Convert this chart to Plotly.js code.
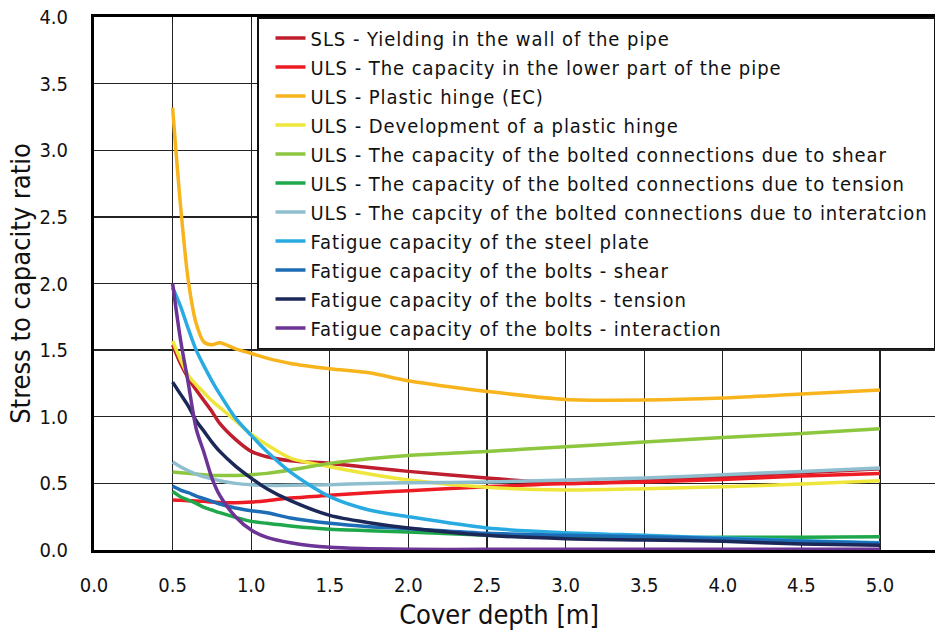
<!DOCTYPE html>
<html>
<head>
<meta charset="utf-8">
<script src="https://cdn.plot.ly/plotly-3.0.1.min.js"></script>
<style>
html,body{margin:0;padding:0;background:#fff;}
#chart{width:936px;height:631px;}
text.legendtext{letter-spacing:0.95px;}
</style>
</head>
<body>
<div id="chart"></div>
<script>
// Cover depth [m]
const coverDepth = [0.5,0.55,0.6,0.65,0.7,0.75,0.8,0.9,1.0,1.1,1.25,1.5,1.75,2.0,2.5,3.0,3.5,4.0,4.5,5.0];

const slsYielding      = [1.54,1.40,1.29,1.20,1.12,1.04,0.95,0.83,0.74,0.70,0.67,0.65,0.62,0.59,0.54,0.50,0.52,0.55,0.58,0.61];
const ulsLowerPart     = [0.375,0.373,0.37,0.368,0.365,0.36,0.357,0.355,0.36,0.37,0.39,0.41,0.43,0.445,0.475,0.50,0.51,0.53,0.555,0.575];
const ulsPlasticEC     = [3.32,2.59,2.02,1.70,1.56,1.54,1.555,1.51,1.475,1.44,1.40,1.36,1.33,1.27,1.19,1.13,1.125,1.14,1.17,1.20];
const ulsDevPlastic    = [1.57,1.43,1.31,1.24,1.18,1.12,1.07,0.97,0.87,0.79,0.69,0.625,0.57,0.525,0.47,0.45,0.46,0.475,0.495,0.52];
const ulsBoltShear     = [0.585,0.58,0.575,0.57,0.565,0.56,0.56,0.56,0.565,0.575,0.60,0.65,0.685,0.71,0.74,0.775,0.81,0.845,0.875,0.91];
const ulsBoltTension   = [0.44,0.40,0.375,0.35,0.32,0.30,0.28,0.245,0.215,0.20,0.18,0.155,0.145,0.135,0.11,0.095,0.09,0.095,0.095,0.10];
const ulsBoltInteract  = [0.66,0.625,0.595,0.57,0.55,0.535,0.52,0.50,0.49,0.485,0.485,0.49,0.50,0.505,0.51,0.525,0.54,0.565,0.59,0.615];
const fatSteelPlate    = [1.97,1.83,1.66,1.50,1.38,1.27,1.17,0.99,0.86,0.74,0.585,0.40,0.30,0.25,0.165,0.13,0.11,0.09,0.07,0.055];
const fatBoltShear     = [0.48,0.45,0.43,0.405,0.385,0.365,0.345,0.315,0.295,0.28,0.24,0.20,0.175,0.16,0.125,0.11,0.10,0.085,0.065,0.05];
const fatBoltTension   = [1.26,1.17,1.08,0.97,0.89,0.81,0.74,0.63,0.54,0.46,0.37,0.26,0.205,0.165,0.11,0.085,0.075,0.065,0.045,0.035];
const fatBoltInteract  = [2.0,1.58,1.25,0.91,0.73,0.54,0.41,0.25,0.15,0.095,0.055,0.02,0.01,0.005,0.005,0.005,0.005,0.005,0.005,0.005];

const seriesNames = [
  "SLS - Yielding in the wall of the pipe",
  "ULS - The capacity in the lower part of the pipe",
  "ULS - Plastic hinge (EC)",
  "ULS - Development of a plastic hinge",
  "ULS - The capacity of the bolted connections due to shear",
  "ULS - The capacity of the bolted connections due to tension",
  "ULS - The capcity of the bolted connections due to interatcion",
  "Fatigue capacity of the steel plate",
  "Fatigue capacity of the bolts - shear",
  "Fatigue capacity of the bolts - tension",
  "Fatigue capacity of the bolts - interaction"
];
const seriesValues = [slsYielding, ulsLowerPart, ulsPlasticEC, ulsDevPlastic, ulsBoltShear,
  ulsBoltTension, ulsBoltInteract, fatSteelPlate, fatBoltShear, fatBoltTension, fatBoltInteract];
const seriesColors = ["#be1e2d","#ed1c24","#f7b41c","#eee63a","#8dc63f","#1fa84b","#8fbfcf",
  "#29abe2","#1c6db5","#1b2858","#6b3495"];

const tickVals = [0,0.5,1,1.5,2,2.5,3,3.5,4,4.5,5];
const tickText = ["0.0","0.5","1.0","1.5","2.0","2.5","3.0","3.5","4.0","4.5","5.0"];
const yTickVals = [0,0.5,1,1.5,2,2.5,3,3.5,4];
const yTickText = ["0.0","0.5","1.0","1.5","2.0","2.5","3.0","3.5","4.0"];

const FONT = '"DejaVu Sans Condensed", "DejaVu Sans", sans-serif';

const traces = seriesValues.map((v, i) => ({
  x: coverDepth, y: v, name: seriesNames[i], type: 'scatter', mode: 'lines',
  line: {color: seriesColors[i], width: 3.5, shape: 'spline', smoothing: 0.8}
}));

const layout = {
  width: 936, height: 631,
  margin: {l: 94, r: 1, t: 17, b: 81},
  paper_bgcolor: '#fff', plot_bgcolor: '#fff',
  font: {family: FONT, color: '#111', size: 20},
  showlegend: true,
  legend: {
    x: 1, xanchor: 'right', y: 1, yanchor: 'top',
    bgcolor: '#fff', bordercolor: '#111', borderwidth: 1.5,
    font: {family: FONT, size: 20, color: '#111'},
    indentation: 12, itemwidth: 30
  },
  xaxis: {
    range: [0, 5.35], tickmode: 'array', tickvals: tickVals, ticktext: tickText,
    showgrid: true, gridcolor: '#222', gridwidth: 1.3, zeroline: false,
    showline: true, linecolor: '#000', linewidth: 3, mirror: true,
    ticks: '', ticklabelstandoff: 15,
    tickfont: {family: FONT, size: 20, color: '#111'},
    title: {text: 'Cover depth [m]\u00A0\u00A0\u00A0\u00A0\u200B', font: {family: FONT, size: 27, color: '#111'}, standoff: 10}
  },
  yaxis: {
    range: [0, 4], tickmode: 'array', tickvals: yTickVals, ticktext: yTickText,
    showgrid: true, gridcolor: '#222', gridwidth: 1.3, zeroline: false,
    showline: true, linecolor: '#000', linewidth: 3,
    ticks: '', ticklabelstandoff: 19,
    tickfont: {family: FONT, size: 20, color: '#111'},
    title: {text: 'Stress to capacity ratio', font: {family: FONT, size: 27, color: '#111'}, standoff: 1}
  }
};

Plotly.newPlot('chart', traces, layout, {displayModeBar: false, staticPlot: true});
</script>
</body>
</html>
